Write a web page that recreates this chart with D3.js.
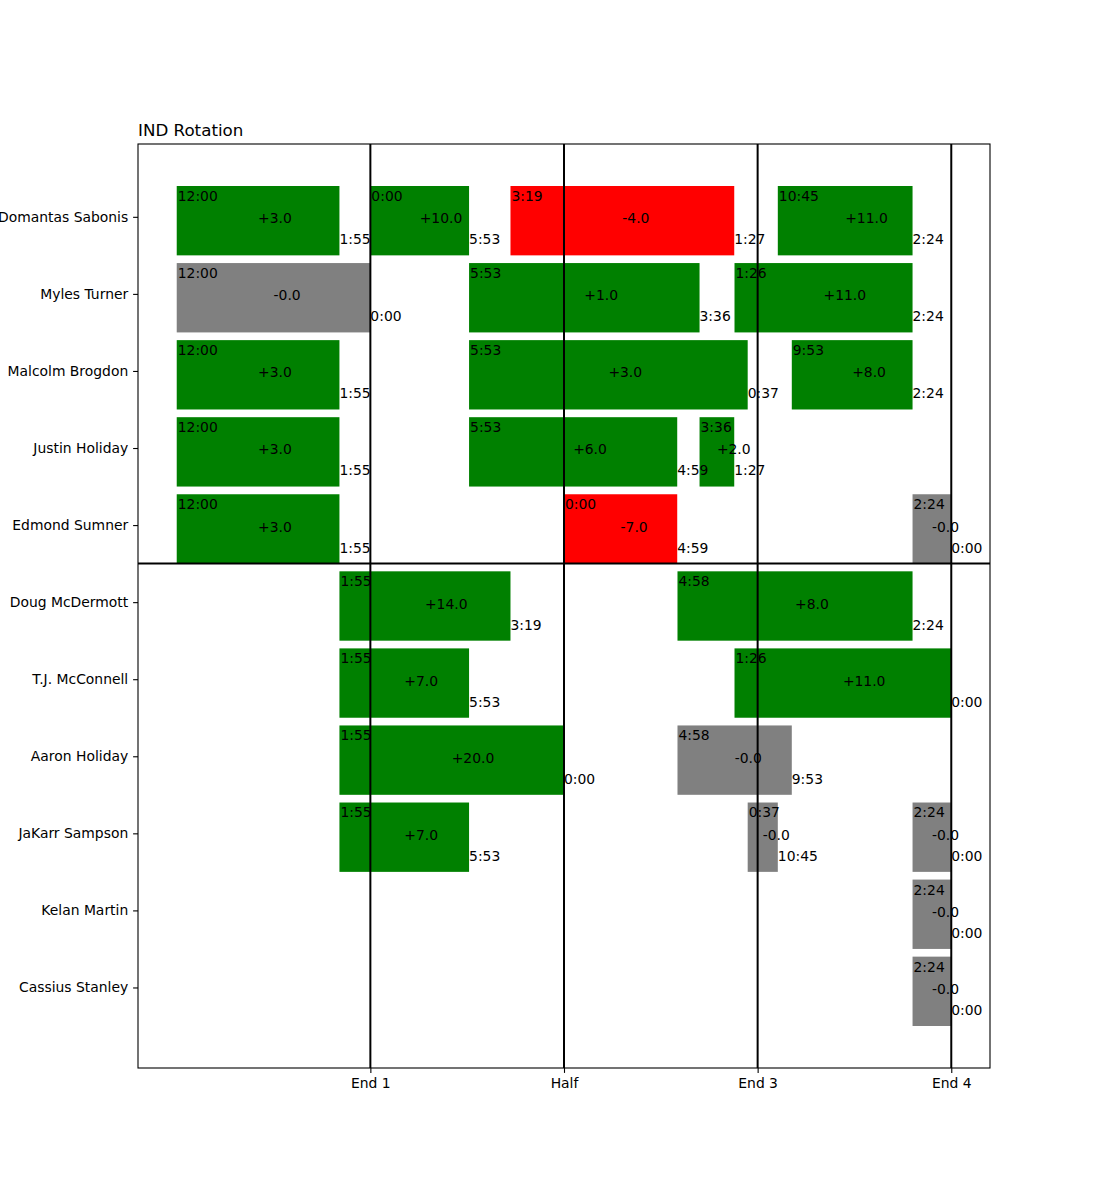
<!DOCTYPE html>
<html>
<head>
<meta charset="utf-8">
<script src="https://cdn.jsdelivr.net/npm/d3@7"></script>
<style>
  html, body { margin: 0; padding: 0; background: #fff; }
  svg { display: block; font-family: "DejaVu Sans", sans-serif; }
</style>
</head>
<body>
<svg id="chart" width="1100" height="1200"></svg>
<script>
// ---- data ----
const players = ["Domantas Sabonis", "Myles Turner", "Malcolm Brogdon", "Justin Holiday",
  "Edmond Sumner", "Doug McDermott", "T.J. McConnell", "Aaron Holiday", "JaKarr Sampson",
  "Kelan Martin", "Cassius Stanley"];
const quarterTicks = [12, 24, 36, 48];
const quarterLabels = ["End 1", "Half", "End 3", "End 4"];

// each stint: player row, start clock + period, end clock + period, plus-minus
const stintPlayer   = [0, 0, 0, 0, 1, 1, 1, 2, 2, 2, 3, 3, 3, 4, 4, 4, 5, 5, 6, 6, 7, 7, 8, 8, 8, 9, 10];
const stintStart    = ["12:00","0:00","3:19","10:45","12:00","5:53","1:26","12:00","5:53","9:53","12:00","5:53","3:36","12:00","0:00","2:24","1:55","4:58","1:55","1:26","1:55","4:58","1:55","0:37","2:24","2:24","2:24"];
const stintStartQ   = [1, 1, 2, 4, 1, 2, 3, 1, 2, 4, 1, 2, 3, 1, 2, 4, 1, 3, 1, 3, 1, 3, 1, 3, 4, 4, 4];
const stintEnd      = ["1:55","5:53","1:27","2:24","0:00","3:36","2:24","1:55","0:37","2:24","1:55","4:59","1:27","1:55","4:59","0:00","3:19","2:24","5:53","0:00","0:00","9:53","5:53","10:45","0:00","0:00","0:00"];
const stintEndQ     = [1, 2, 3, 4, 1, 3, 4, 1, 3, 4, 1, 3, 3, 1, 3, 4, 2, 4, 2, 4, 2, 4, 2, 4, 4, 4, 4];
const stintPM       = [3, 10, -4, 11, -0, 1, 11, 3, 3, 8, 3, 6, 2, 3, -7, -0, 14, 8, 7, 11, 20, -0, 7, -0, -0, -0, -0];

// ---- helpers ----
function gameMinute(clock, q) {
  const [m, s] = clock.split(":").map(Number);
  return (q - 1) * 12 + (12 - (m + s / 60));
}
function fmtPM(v) {
  if (v > 0) return "+" + v.toFixed(1);
  if (v < 0) return v.toFixed(1);
  return "-0.0";
}
function color(v) { return v > 0 ? "#008000" : (v < 0 ? "#ff0000" : "#808080"); }

const stints = stintPlayer.map((p, i) => ({
  row: p,
  x0: gameMinute(stintStart[i], stintStartQ[i]),
  x1: gameMinute(stintEnd[i], stintEndQ[i]),
  startLbl: stintStart[i],
  endLbl: stintEnd[i],
  pm: stintPM[i]
}));

// ---- layout ----
const L = 138, R = 990, T = 144, B = 1068;
const fs = 13.9;
const svg = d3.select("#chart");
const x = d3.scaleLinear().domain([-2.4, 50.4]).range([L, R]);
const y = d3.scaleLinear().domain([-0.945, 11.045]).range([T, B]);
const barH = y(0.9) - y(0);

// bars
svg.append("g").selectAll("rect").data(stints).join("rect")
  .attr("x", d => x(d.x0))
  .attr("y", d => y(d.row - 0.4))
  .attr("width", d => x(d.x1) - x(d.x0))
  .attr("height", barH)
  .attr("fill", d => color(d.pm));

// texts
const tg = svg.append("g").attr("font-size", fs).attr("fill", "#000");
tg.selectAll("text.st").data(stints).join("text").attr("class", "st")
  .attr("x", d => x(d.x0) + 1).attr("y", d => y(d.row + 0.05) - 19.7).text(d => d.startLbl);
tg.selectAll("text.en").data(stints).join("text").attr("class", "en")
  .attr("x", d => x(d.x1)).attr("y", d => y(d.row + 0.05) + 23.6).text(d => d.endLbl);
tg.selectAll("text.pm").data(stints).join("text").attr("class", "pm")
  .attr("x", d => x((d.x0 + d.x1) / 2)).attr("y", d => y(d.row + 0.05) + 2.6).text(d => fmtPM(d.pm));

// quarter lines and starter separator
svg.append("g").selectAll("line").data(quarterTicks).join("line")
  .attr("x1", d => x(d)).attr("x2", d => x(d))
  .attr("y1", T).attr("y2", B)
  .attr("stroke", "#000").attr("stroke-width", 2);
svg.append("line")
  .attr("x1", L).attr("x2", R).attr("y1", y(4.5)).attr("y2", y(4.5))
  .attr("stroke", "#000").attr("stroke-width", 2);

// axes frame
svg.append("rect").attr("x", L).attr("y", T).attr("width", R - L).attr("height", B - T)
  .attr("fill", "none").attr("stroke", "#000").attr("stroke-width", 1.1);

// y axis
const yAxis = d3.axisLeft(y).tickValues(d3.range(players.length))
  .tickFormat(i => players[i]).tickSize(4.9).tickPadding(4.9);
const gy = svg.append("g").attr("transform", `translate(${L},0)`).call(yAxis);
gy.select(".domain").remove();
gy.selectAll("text").attr("font-size", fs).attr("font-family", "DejaVu Sans").attr("fill", "#000");
gy.selectAll("line").attr("stroke", "#000").attr("stroke-width", 1.1);

// x axis
const xAxis = d3.axisBottom(x).tickValues(quarterTicks)
  .tickFormat((d, i) => quarterLabels[i]).tickSize(4.9).tickPadding(4.9);
const gx = svg.append("g").attr("transform", `translate(0,${B})`).call(xAxis);
gx.select(".domain").remove();
gx.selectAll("text").attr("font-size", fs).attr("font-family", "DejaVu Sans").attr("fill", "#000");
gx.selectAll("line").attr("stroke", "#000").attr("stroke-width", 1.1);

// title
svg.append("text").attr("x", L).attr("y", 136).attr("font-size", 16.7).attr("fill", "#000")
  .text("IND Rotation");
</script>
</body>
</html>
